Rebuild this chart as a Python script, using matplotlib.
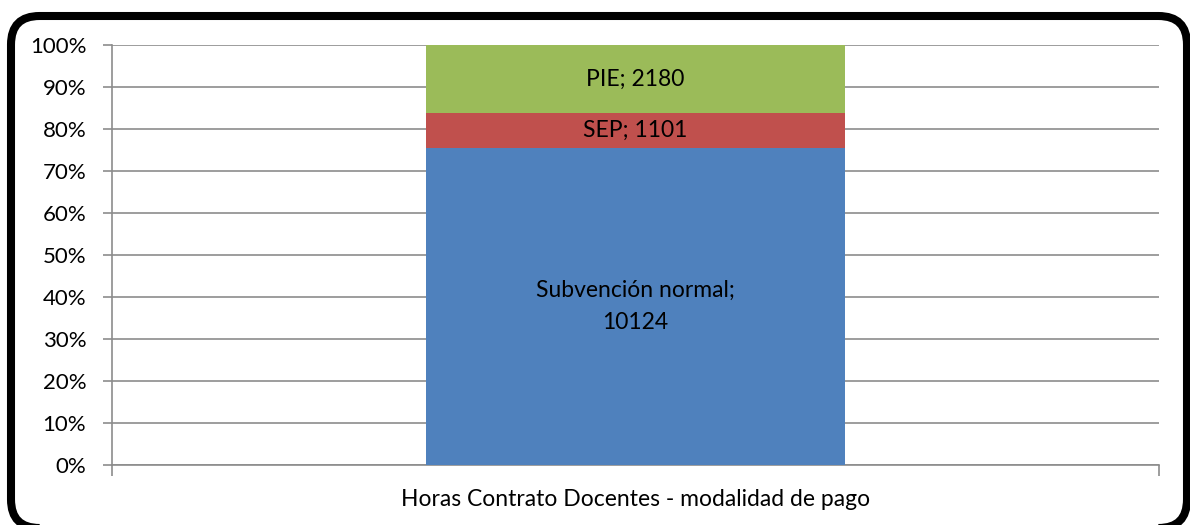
import matplotlib
matplotlib.use("Agg")
import matplotlib.pyplot as plt
from matplotlib.patches import FancyBboxPatch
import numpy as np

category = "Horas Contrato Docentes - modalidad de pago"
series_names = ["Subvención normal", "SEP", "PIE"]
series_values = [10124, 1101, 2180]
series_colors = ["#4f81bd", "#c0504d", "#9bbb59"]
label_texts = ["Subvención normal;\n10124", "SEP; 1101", "PIE; 2180"]
yticks = [0, 10, 20, 30, 40, 50, 60, 70, 80, 90, 100]

plt.rcParams['font.family'] = ['Lato', 'DejaVu Sans']
FS = 16.5

fig = plt.figure(figsize=(11.9, 5.25), dpi=100)
ax = fig.add_axes([112/1190, 1-465/525, 1047/1190, 420/525])

total = sum(series_values)
pct = [v / total * 100 for v in series_values]
bottom = 0
for name, p, c, lab in zip(series_names, pct, series_colors, label_texts):
    ax.bar([0], [p], bottom=bottom, width=0.4, color=c, zorder=3)
    ax.text(0, bottom + p / 2, lab, ha='center', va='center', fontsize=FS,
            color='#000000', zorder=4, linespacing=1.65)
    bottom += p

ax.set_xlim(-0.5, 0.5)
ax.set_ylim(0, 100)
ax.set_yticks(yticks)
ax.set_yticklabels([f"{t}%" for t in yticks], fontsize=16)
ax.yaxis.grid(True, color='#8c8c8c', linewidth=1.2, zorder=0)
ax.set_xticks([-0.5, 0.5])
ax.set_xticklabels(["", ""])
ax.tick_params(axis='x', length=8, color='#8c8c8c', width=1.2)
ax.tick_params(axis='y', length=6.5, color='#8c8c8c', width=1.2, pad=12)
ax.text(0.5, -0.083, category, transform=ax.transAxes, ha='center', va='center', fontsize=FS)
for s in ['top', 'right']:
    ax.spines[s].set_visible(False)
ax.spines['left'].set_color('#8c8c8c')
ax.spines['left'].set_linewidth(1.2)
ax.spines['bottom'].set_color('#8c8c8c')
ax.spines['bottom'].set_linewidth(1.2)

border = FancyBboxPatch((11/1190, -3/525), 1176/1190, 512/525,
                        boxstyle="round,pad=0,rounding_size=0.024",
                        transform=fig.transFigure, fill=False,
                        edgecolor='black', linewidth=5.8, mutation_aspect=1190/525)
fig.patches.append(border)

fig.savefig("out.png", dpi=100)
